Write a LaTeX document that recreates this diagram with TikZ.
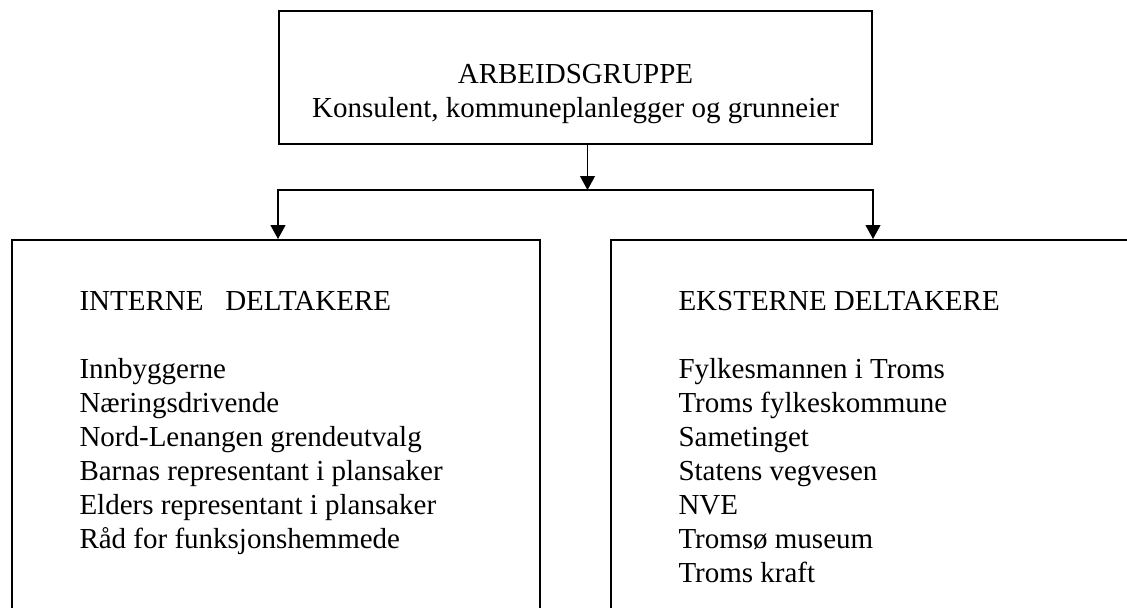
\documentclass[tikz,border=0pt]{standalone}
\usepackage{fontspec}
\setmainfont{Liberation Serif}
\usepackage{tikz}
\usetikzlibrary{shapes,arrows,arrows.meta,positioning,fit,calc}

\tikzset{
    box/.style={rectangle, draw=black, line width=0.8pt, inner sep=0pt},
    link/.style={draw=black, line width=0.45pt},
    tri/.tip={Triangle[length=5.6pt,width=6pt]},
    txt/.style={font=\fontsize{11.6}{13.6}\selectfont, inner sep=0pt}
}

\begin{document}
\begin{tikzpicture}[x=0.4pt,y=-0.4pt]
            \useasboundingbox (0,0) rectangle (1127,607);
            \clip (0,0) rectangle (1127,607);
            % top box
            \node[box, minimum width=237.2pt, minimum height=53.2pt] (grp) at (575.5,77.5) {};
            \node[txt, anchor=base] (grptitle) at (575.5,83) {ARBEIDSGRUPPE};
            \node[txt, anchor=base] (grpmembers) at (575.5,117)
                {Konsulent, kommuneplanlegger og grunneier};
            % the two lower boxes, cut by the page edge
            \node[box, minimum width=211.2pt, minimum height=160pt, anchor=north west]
                (intbox) at (11,239) {};
            \node[box, minimum width=212pt, minimum height=160pt, anchor=north west]
                (extbox) at (610,239) {};
            % connectors
            \coordinate (mid) at (587.5,190);
            \coordinate (lft) at (grp.west |- mid);
            \coordinate (rgt) at (grp.east |- mid);
            \draw[link, -tri] (grp.south -| mid) -- (mid);
            \draw[link, tri-tri] (lft |- intbox.north) -- (lft) -- (rgt) -- (rgt |- extbox.north);
            % texts
            \node[txt, anchor=base west] (inthead) at (79,310) {INTERNE\ \ \ DELTAKERE};
            \foreach \item [count=\i] in {Innbyggerne, N\ae ringsdrivende,
                    Nord-Lenangen grendeutvalg, Barnas representant i plansaker,
                    Elders representant i plansaker, Råd for funksjonshemmede}
                \node[txt, anchor=base west] (int-\i) at (79,{378+34*(\i-1)}) {\item};
            \node[txt, anchor=base west] (exthead) at (678,310) {EKSTERNE DELTAKERE};
            \foreach \item [count=\i] in {Fylkesmannen i Troms, Troms fylkeskommune,
                    Sametinget, Statens vegvesen, NVE, Tromsø museum, Troms kraft}
                \node[txt, anchor=base west] (ext-\i) at (678,{378+34*(\i-1)}) {\item};
        \end{tikzpicture}
\end{document}
